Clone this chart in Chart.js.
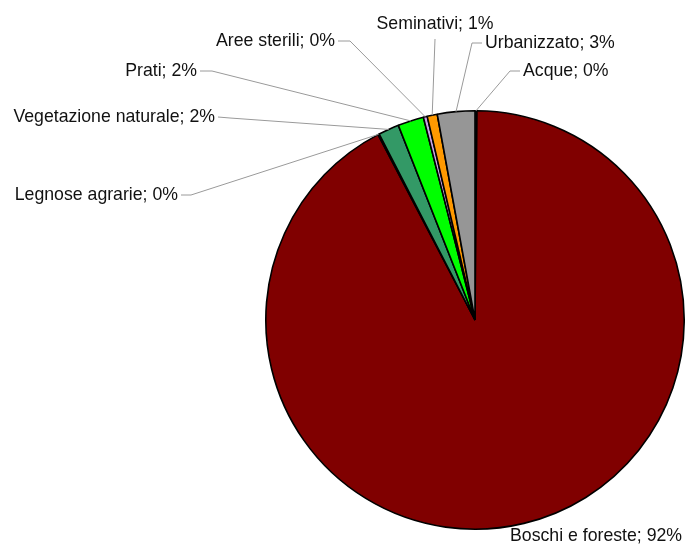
<!DOCTYPE html>
<html>
<head>
<meta charset="utf-8">
<script src="https://cdn.jsdelivr.net/npm/chart.js@4.4.0/dist/chart.umd.min.js"></script>
<style>
  html, body { margin: 0; padding: 0; background: #fff; }
  #wrap { width: 685px; height: 551px; position: relative; }
</style>
</head>
<body>
<div id="wrap"><canvas id="uso-suolo"></canvas></div>
<script>
// clockwise from 12 o'clock
const categories = ["Acque", "Boschi e foreste", "Legnose agrarie", "Vegetazione naturale", "Prati", "Aree sterili", "Seminativi", "Urbanizzato"];
const shares = [0.15, 92.2, 0.1, 1.6, 2.0, 0.3, 0.78, 2.89];
const labelTexts = ["Acque; 0%", "Boschi e foreste; 92%", "Legnose agrarie; 0%", "Vegetazione naturale; 2%", "Prati; 2%", "Aree sterili; 0%", "Seminativi; 1%", "Urbanizzato; 3%"];
const sliceColors = ['#1f6fc0', '#800000', '#c8a000', '#339966', '#00ff00', '#c9a3e6', '#ff9900', '#969696'];

// label placement: text anchor, align, leader elbow and leader end at the text
const labelPos = [
  { x: 523, y: 71, align: 'left', elbow: [510, 71], end: [520, 71] },
  { x: 510, y: 536, align: 'left', elbow: null },
  { x: 178, y: 195, align: 'right', elbow: [191, 195], end: [181, 195] },
  { x: 215, y: 117, align: 'right', elbow: [230, 118], end: [218, 117] },
  { x: 197, y: 71, align: 'right', elbow: [212, 71], end: [200, 71] },
  { x: 335, y: 41, align: 'right', elbow: [350, 41], end: [338, 41] },
  { x: 435, y: 24, align: 'center', elbow: [435, 39], end: null },
  { x: 485, y: 43, align: 'left', elbow: [472, 43], end: [482, 43] }
];

const pieLabels = {
  id: 'pieLabels',
  afterDraw(chart) {
    const ctx = chart.ctx;
    const arcs = chart.getDatasetMeta(0).data;
    ctx.save();
    ctx.font = '17.7px "Liberation Sans", Arial, sans-serif';
    ctx.textBaseline = 'middle';
    arcs.forEach((arc, i) => {
      const p = labelPos[i];
      if (p.elbow) {
        const mid = (arc.startAngle + arc.endAngle) / 2;
        const r = arc.outerRadius;
        ctx.beginPath();
        ctx.strokeStyle = '#9a9a9a';
        ctx.lineWidth = 1;
        ctx.moveTo(arc.x + Math.cos(mid) * r, arc.y + Math.sin(mid) * r);
        ctx.lineTo(p.elbow[0], p.elbow[1]);
        if (p.end) ctx.lineTo(p.end[0], p.end[1]);
        ctx.stroke();
      }
      ctx.fillStyle = '#111';
      ctx.textAlign = p.align;
      ctx.fillText(labelTexts[i], p.x, p.y);
    });
    ctx.restore();
  }
};

const ctx = document.getElementById('uso-suolo').getContext('2d');

const usoSuolo = new Chart(ctx, {
  type: 'pie',
  data: {
    labels: categories,
    datasets: [{
      data: shares,
      backgroundColor: sliceColors,
      borderColor: '#000',
      borderWidth: 1.6
    }]
  },
  options: {
    responsive: true,
    maintainAspectRatio: false,
    animation: false,
    layout: {
      padding: { left: 265, right: 0, top: 110, bottom: 21 }
    },
    plugins: {
      legend: { display: false },
      tooltip: { enabled: false }
    }
  },
  plugins: [pieLabels]
});
</script>
</body>
</html>
